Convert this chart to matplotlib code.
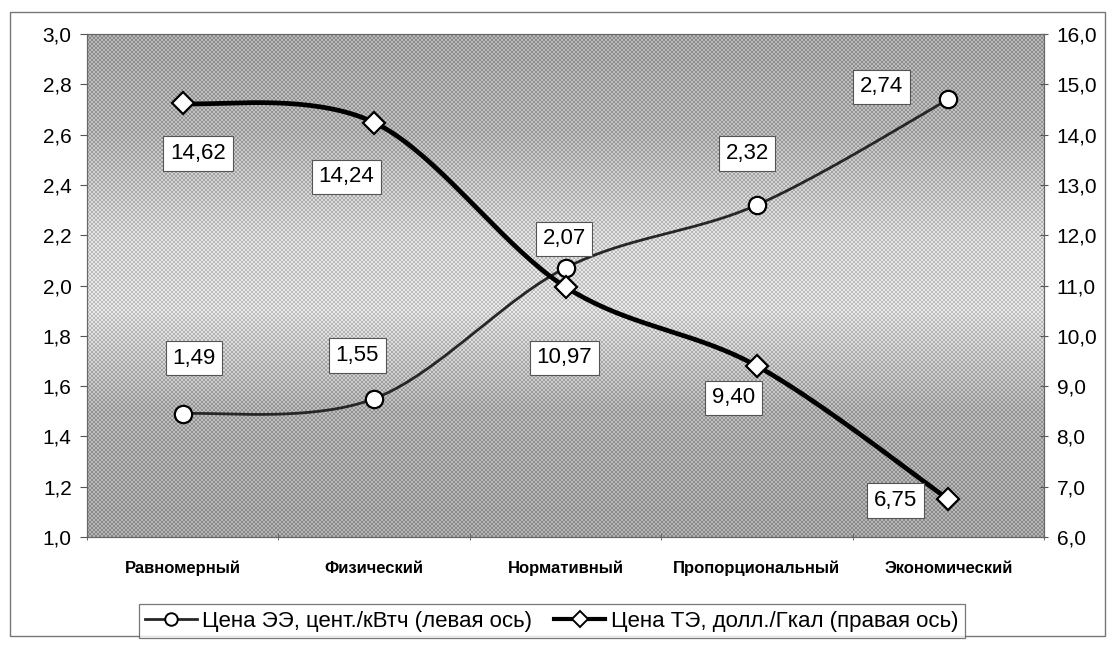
import numpy as np
import matplotlib
matplotlib.use("Agg")
import matplotlib.pyplot as plt
from matplotlib.patches import Rectangle
from matplotlib.lines import Line2D

plt.rcParams['font.family'] = ['Liberation Sans', 'DejaVu Sans']

categories = ['Равномерный', 'Физический', 'Нормативный', 'Пропорциональный', 'Экономический']
ee_price = [1.49, 1.55, 2.07, 2.32, 2.74]      # левая ось
te_price = [14.62, 14.24, 10.97, 9.40, 6.75]   # правая ось
ee_label = ['1,49', '1,55', '2,07', '2,32', '2,74']
te_label = ['14,62', '14,24', '10,97', '9,40', '6,75']
left_ticks = [1.0, 1.2, 1.4, 1.6, 1.8, 2.0, 2.2, 2.4, 2.6, 2.8, 3.0]
right_ticks = [6, 7, 8, 9, 10, 11, 12, 13, 14, 15, 16]
legend_labels = ['Цена ЭЭ, цент./кВтч (левая ось)', 'Цена ТЭ, долл./Гкал (правая ось)']

# label offsets (points)
ee_off = [(8, 40), (-12, 31), (-1, 21), (-7, 37), (-48, 9)]
te_off = [(11, -36), (-20, -39), (-1, -51), (-17, -23), (-38, -1)]

W, H = 11.12, 6.47
fig = plt.figure(figsize=(W, H), dpi=100)
fig.patch.set_facecolor('white')
ax = fig.add_axes([87/1112, 1-537/647, 957/1112, 503/647])
ax2 = ax.twinx()

ylo, yhi = 1.0, 3.0
rlo, rhi = 6.0, 16.0
ax.set_xlim(-0.5, len(categories)-0.5)
ax.set_ylim(ylo, yhi)
ax2.set_ylim(rlo, rhi)

# gradient background with a fine dither texture
stops_y = [0.0, 0.25, 0.45, 0.6, 0.8, 1.0]
stops_v = [0.62, 0.66, 0.83, 0.81, 0.68, 0.63]
ny, nx = 503, 957
yy = np.linspace(0, 1, ny)
vals = np.interp(yy, stops_y, stops_v)
ii, jj = np.indices((ny, nx))
checker = ((ii // 2 + jj // 2) % 2) * 2 - 1
img = vals[:, None] + 0.09 * checker
ax.imshow(img, extent=[-0.5, len(categories)-0.5, yhi, ylo], aspect='auto',
          cmap='gray', vmin=0, vmax=1, zorder=0, interpolation='nearest')

def catmull(xs, ys, sx, sy, n=40):
    P = np.column_stack([np.asarray(xs, float)*sx, np.asarray(ys, float)*sy])
    P = np.vstack([P[0], P, P[-1]])
    out = []
    for i in range(1, len(P)-2):
        p0, p1, p2, p3 = P[i-1], P[i], P[i+1], P[i+2]
        t = np.linspace(0, 1, n)[:, None]
        c = 0.5*((2*p1) + (-p0+p2)*t + (2*p0-5*p1+4*p2-p3)*t**2 + (-p0+3*p1-3*p2+p3)*t**3)
        out.append(c if i == 1 else c[1:])
    C = np.vstack(out)
    return C[:, 0]/sx, C[:, 1]/sy

x = np.arange(len(categories))
sx = 957/len(categories)
cx, cy = catmull(x, ee_price, sx, 503/(yhi-ylo))
ax.plot(cx, cy, color='#262626', lw=2.0, zorder=3)
ax.plot(x, ee_price, ls='none', marker='o', ms=12.5, mfc='white', mec='black', mew=1.6, zorder=4)
tx, ty = catmull(x, te_price, sx, 503/(rhi-rlo))
ax2.plot(tx, ty, color='black', lw=3.4, zorder=3)
ax2.plot(x, te_price, ls='none', marker='D', ms=11, mfc='white', mec='black', mew=1.6, zorder=4)

bbox = dict(boxstyle='square,pad=0.3', fc='white', ec='#555555', lw=0.8)
for xi, v, lab, off in zip(x, ee_price, ee_label, ee_off):
    ax2.annotate(lab, xy=(xi, rlo + (v-ylo)/(yhi-ylo)*(rhi-rlo)), xytext=off, textcoords='offset points',
                 ha='center', va='center', fontsize=16, bbox=bbox, zorder=6)
for xi, v, lab, off in zip(x, te_price, te_label, te_off):
    ax2.annotate(lab, xy=(xi, v), xytext=off, textcoords='offset points',
                 ha='center', va='center', fontsize=16, bbox=bbox, zorder=6)

ax.set_xticks(x)
ax.set_xticklabels(categories, fontsize=12, fontweight='bold')
for t in ax.get_xticklabels():
    t.set_verticalalignment('baseline')
ax.tick_params(axis='x', length=0, pad=26)
ax.set_xticks(np.arange(-0.5, len(categories)), minor=True)
ax.tick_params(axis='x', which='minor', length=5, direction='inout', color='#555555')
ax.set_yticks(left_ticks)
ax.set_yticklabels([f'{t:.1f}'.replace('.', ',') for t in left_ticks], fontsize=15)
ax.tick_params(axis='y', length=5, direction='out', color='#555555', pad=6)
ax2.set_yticks(right_ticks)
ax2.set_yticklabels([f'{t:.1f}'.replace('.', ',') for t in right_ticks], fontsize=15)
ax2.tick_params(axis='y', length=6, direction='inout', color='#555555', pad=6)
for a in (ax, ax2):
    for s in a.spines.values():
        s.set_color('#666666')
        s.set_linewidth(0.8)

h1 = Line2D([], [], color='#262626', lw=2.0, marker='o', ms=9, mfc='white', mec='black', mew=1.4)
h2 = Line2D([], [], color='black', lw=3, marker='D', ms=8, mfc='white', mec='black', mew=1.4)
leg = fig.legend([h1, h2], legend_labels, loc='center', bbox_to_anchor=(552/1112, 1-621/647),
                 ncol=2, fontsize=16, frameon=True, fancybox=False, handlelength=2.3,
                 handletextpad=0.25, columnspacing=1.0, borderpad=0.3, borderaxespad=0)
leg.get_frame().set_edgecolor('#555555')
leg.get_frame().set_linewidth(0.9)

fig.patches.append(Rectangle((10/1112, 1-636/647), 1095/1112, 624/647, transform=fig.transFigure,
                             fill=False, ec='#777777', lw=1.0))

fig.savefig('out.png', dpi=100)
